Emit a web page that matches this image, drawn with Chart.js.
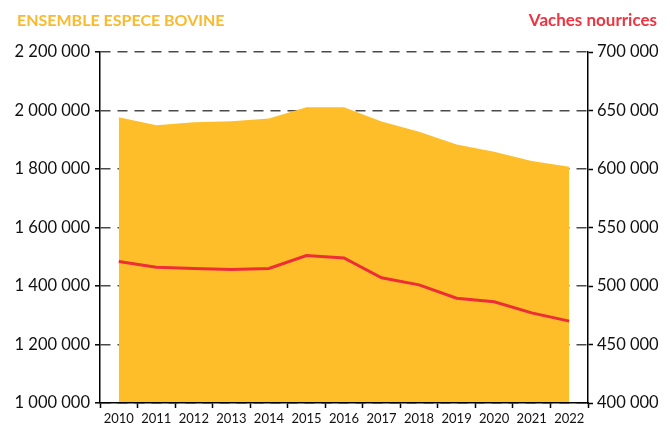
<!DOCTYPE html>
<html>
<head>
<meta charset="utf-8">
<script src="https://cdn.jsdelivr.net/npm/chart.js@4/dist/chart.umd.min.js"></script>
<style>
  html, body { margin: 0; padding: 0; background: #fff; }
  #cheptel { display: block; }
</style>
</head>
<body>
<canvas id="cheptel" width="670" height="430"></canvas>
<script>
const years = ['2010', '2011', '2012', '2013', '2014', '2015', '2016', '2017', '2018', '2019', '2020', '2021', '2022'];
const bovins = [1977000, 1950000, 1960000, 1963000, 1973000, 2011000, 2011000, 1962000, 1927000, 1884000, 1859000, 1827000, 1808000];
const vachesNourrices = [521000, 516000, 515000, 514000, 515000, 526000, 524000, 507000, 501000, 489500, 486500, 477000, 470000];

const orange = '#FDBE2A';
const rouge = '#EE2E36';

// 2 200 000 style
const fmt = v => String(v).replace(/\B(?=(\d{3})+(?!\d))/g, ' ');

Chart.defaults.font.family = 'Lato';
Chart.defaults.color = '#111';

// the two titles over the axes
const titlesPlugin = {
    id: 'titles',
    afterDraw: function(chart) {
        const ctx = chart.ctx;
        ctx.save();
        ctx.textBaseline = 'alphabetic';
        ctx.font = 'bold 16px Lato';
        ctx.fillStyle = '#FBB92E';
        ctx.textAlign = 'left';
        ctx.fillText('ENSEMBLE ESPECE BOVINE', 17, 26);
        ctx.font = 'bold 17px Lato';
        ctx.fillStyle = '#EE3440';
        ctx.textAlign = 'right';
        ctx.fillText('Vaches nourrices', 657, 26);
        ctx.restore();
    }
};

const chart = new Chart(document.getElementById('cheptel'), {
    type: 'line',
    data: {
        labels: years,
        datasets: [{
            label: 'Vaches nourrices',
            data: vachesNourrices,
            yAxisID: 'y1',
            borderColor: rouge,
            borderWidth: 3,
            pointRadius: 0,
            fill: false,
            tension: 0,
            order: 1
        }, {
            label: 'Ensemble espece bovine',
            data: bovins,
            yAxisID: 'y',
            backgroundColor: orange,
            borderWidth: 0,
            pointRadius: 0,
            fill: 'start',
            tension: 0,
            order: 2
        }]
    },
    options: {
        responsive: false,
        animation: false,
        layout: { padding: { top: 52, left: 0, right: 0, bottom: 0 } },
        plugins: {
            legend: { display: false },
            tooltip: { enabled: false }
        },
        scales: {
            x: {
                offset: true,
                grid: {
                    offset: true,
                    drawOnChartArea: false,
                    drawTicks: true,
                    tickLength: 5,
                    tickColor: '#000',
                    tickWidth: 1.5
                },
                border: { color: '#000', width: 1.5, z: 1 },
                ticks: { font: { size: 13 }, padding: 3, maxRotation: 0, autoSkip: false },
                afterFit: s => { s.height = 27; }
            },
            y: {
                position: 'left',
                min: 1000000,
                max: 2200000,
                grid: {
                    color: '#4a4a4a',
                    lineWidth: 1.6,
                    drawTicks: true,
                    tickLength: 5,
                    tickColor: '#000',
                    tickWidth: 1.5,
                    tickBorderDash: []
                },
                border: { color: '#000', width: 1.5, dash: [10, 7] },
                ticks: { stepSize: 200000, font: { size: 16.5 }, padding: 5, callback: v => fmt(v) },
                afterFit: s => { s.width = 100; }
            },
            y1: {
                position: 'right',
                min: 400000,
                max: 700000,
                grid: {
                    drawOnChartArea: false,
                    drawTicks: true,
                    tickLength: 5,
                    tickColor: '#000',
                    tickWidth: 1.5
                },
                border: { color: '#000', width: 1.5 },
                ticks: { stepSize: 50000, font: { size: 16.5 }, padding: 4, callback: v => fmt(v) },
                afterFit: s => { s.width = 82; }
            }
        }
    },
    plugins: [titlesPlugin]
});
</script>
</body>
</html>
